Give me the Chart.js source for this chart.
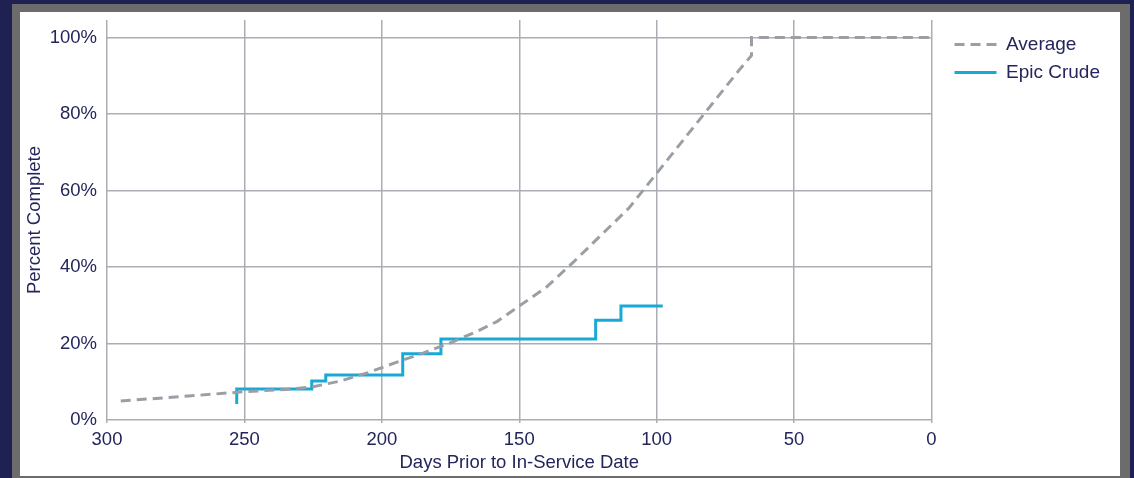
<!DOCTYPE html>
<html>
<head>
<meta charset="utf-8">
<script src="https://cdn.jsdelivr.net/npm/chart.js@4/dist/chart.umd.min.js"></script>
<style>
  html, body { margin: 0; padding: 0; }
  body { width: 1134px; height: 478px; background: #1f2152; position: relative; overflow: hidden; }
  .frame { position: absolute; left: 12px; top: 4px; width: 1118px; height: 474px; background: #6c6c6c; }
  .panel { position: absolute; left: 20px; top: 12px; width: 1100px; height: 464px; background: #ffffff; }
</style>
</head>
<body>
<div class="frame"></div>
<div class="panel"><canvas id="progress-chart" width="1100" height="464"></canvas></div>
<script>
// days before in-service date vs. percent complete
const averageDays = [295, 275, 250, 235, 225, 215, 205, 195, 185, 175, 165, 158, 150, 140, 130, 120, 110, 100, 90, 80, 70, 65.5, 65.5, 0];
const averagePct  = [5.0, 6.0, 7.4, 8.0, 8.7, 10.2, 12.4, 15.0, 17.5, 20.2, 23.3, 25.8, 29.8, 34.8, 41.5, 48.5, 55.5, 64.5, 73.5, 82.5, 91.5, 95.3, 100, 100];

const epicDays = [252.8, 252.8, 225.5, 220.4, 192.4, 178.5, 122.2, 113, 97.8];
const epicPct  = [4.2, 8.1, 10.2, 11.8, 17.3, 21.2, 26.1, 29.8, 29.8];

const xTicks = [300, 250, 200, 150, 100, 50, 0];
const yTicks = [0, 20, 40, 60, 80, 100];

const navy = "#23255c";
const gridColor = "#aaaeb4";
const font = "Liberation Sans, Arial, sans-serif";

const toPoints = (xs, ys) => xs.map((x, i) => ({ x: x, y: ys[i] }));

// legend sits a little further from the plot than Chart.js puts it
const legendNudge = {
    id: "legendNudge",
    afterLayout(chart) {
        const lg = chart.legend;
        if (!lg) return;
        const dx = chart.chartArea.right + 14 - lg.left;
        lg.left += dx;
        lg.right += dx;
        lg.top += 6;
        lg.bottom += 6;
    },
};

const ctx = document.getElementById("progress-chart").getContext("2d");
new Chart(ctx, {
    type: "line",
    data: {
        datasets: [
            {
                label: "Average",
                data: toPoints(averageDays, averagePct),
                borderColor: "#9b9fa5",
                borderWidth: 3,
                borderDash: [10, 6],
                pointRadius: 0,
                tension: 0,
                fill: false,
            },
            {
                label: "Epic Crude",
                data: toPoints(epicDays, epicPct),
                borderColor: "#19a9d6",
                borderWidth: 3,
                pointRadius: 0,
                stepped: "before",
                fill: false,
            },
        ],
    },
    options: {
        responsive: false,
        animation: false,
        layout: { padding: { left: 4, top: 8, right: 24, bottom: 0 } },
        plugins: {
            legend: {
                position: "right",
                align: "start",
                labels: {
                    usePointStyle: true,
                    pointStyle: "line",
                    pointStyleWidth: 42,
                    color: navy,
                    padding: 9,
                    font: { family: font, size: 19 },
                    generateLabels(chart) {
                        const items = Chart.defaults.plugins.legend.labels.generateLabels(chart);
                        items.forEach((item) => {
                            const ds = chart.data.datasets[item.datasetIndex];
                            item.lineDash = ds.borderDash || [];
                            item.strokeStyle = ds.borderColor;
                            item.lineWidth = ds.borderWidth;
                        });
                        return items;
                    },
                },
            },
            tooltip: { enabled: false },
        },
        scales: {
            x: {
                type: "linear",
                reverse: true,
                min: 0,
                max: 300,
                afterBuildTicks: (axis) => { axis.ticks = xTicks.map((v) => ({ value: v })); },
                afterFit: (scale) => { scale.height = 56; },
                ticks: {
                    color: navy,
                    padding: 6,
                    font: { family: font, size: 18.5 },
                },
                grid: { color: gridColor, lineWidth: 1.5, tickLength: 3 },
                border: { display: false },
                title: {
                    display: true,
                    text: "Days Prior to In-Service Date",
                    color: navy,
                    padding: { top: 0, bottom: 2 },
                    font: { family: font, size: 18.5 },
                },
            },
            y: {
                min: 0,
                max: 104.6,
                afterBuildTicks: (axis) => { axis.ticks = yTicks.map((v) => ({ value: v })); },
                afterFit: (scale) => {
                    scale.width = 83;
                    scale.paddingTop = 0;
                    scale.paddingBottom = 0;
                },
                ticks: {
                    color: navy,
                    padding: 10,
                    font: { family: font, size: 18.5 },
                    callback: (v) => v + "%",
                },
                grid: { color: gridColor, lineWidth: 1.5, drawTicks: false },
                border: { display: false },
                title: {
                    display: true,
                    text: "Percent Complete",
                    color: navy,
                    padding: { top: 0, bottom: 0 },
                    font: { family: font, size: 18.5 },
                },
            },
        },
    },
    plugins: [legendNudge],
});
</script>
</body>
</html>
